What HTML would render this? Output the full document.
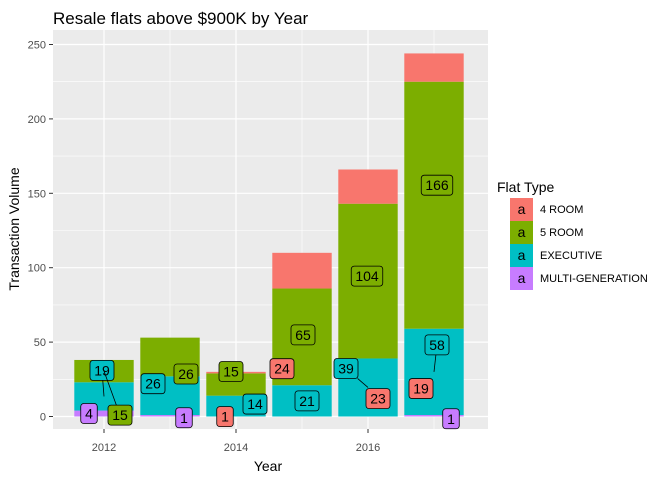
<!DOCTYPE html>
<html><head><meta charset="utf-8">
<style>
body{margin:0;background:#fff;font-family:"Liberation Sans",Arial,sans-serif;}
svg text{font-family:"Liberation Sans",Arial,sans-serif;}
</style></head>
<body>
<svg id="chart" width="672" height="480" xmlns="http://www.w3.org/2000/svg">
<text x="53" y="24" font-size="17" fill="#000">Resale flats above $900K by Year</text>
<rect x="53" y="30" width="435" height="399" fill="#EBEBEB"/>
<g id="grid"></g><g id="bars"></g><g id="labels"></g><g id="axes"></g>
<text x="268" y="471" font-size="14" text-anchor="middle">Year</text>
<text transform="translate(19,229) rotate(-90)" font-size="14" text-anchor="middle">Transaction Volume</text>
<g>
<text x="497" y="192" font-size="14">Flat Type</text>
<g id="legend"></g>
</g>
</svg>
<script>
const years=[2012,2013,2014,2015,2016,2017];
const types=["MULTI-GENERATION","EXECUTIVE","5 ROOM","4 ROOM"];
const mg=[4,1,0,0,0,1];
const exec=[19,26,14,21,39,58];
const room5=[15,26,15,65,104,166];
const room4=[0,0,1,24,23,19];
const yTicks=[0,50,100,150,200,250];
const xTicks=[2012,2014,2016];
const colors={"4 ROOM":"#F8766D","5 ROOM":"#7CAE00","EXECUTIVE":"#00BFC4","MULTI-GENERATION":"#C77CFF"};
const offMG=[[-15,0],[14,2],[0,0],[0,0],[0,0],[17,3]];
const offEX=[[-2,-26],[-17,-12],[19,-2],[5,0],[-22,-19],[3,-27]];
const off5=[[16,44],[16,17],[-5,-13],[1,-2],[-1,-5],[3,-20]];
const off4=[[0,0],[0,0],[-11,44],[-20,98],[10,212],[-13,321]];
const series=[mg,exec,room5,room4];
const offs=[offMG,offEX,off5,off4];
const NS="http://www.w3.org/2000/svg";
function X(yr){return 104+(yr-2012)*66;}
function Y(v){return 416.5-v*1.488;}
function el(tag,attrs,parent){const e=document.createElementNS(NS,tag);for(const k in attrs)e.setAttribute(k,attrs[k]);parent.appendChild(e);return e;}
const grid=document.getElementById('grid'),bars=document.getElementById('bars'),labels=document.getElementById('labels'),axes=document.getElementById('axes'),legend=document.getElementById('legend');
for(let i=0;i<yTicks.length-1;i++){const v=(yTicks[i]+yTicks[i+1])/2;const l=el('line',{x1:53,x2:488,y1:Y(v),y2:Y(v),stroke:'#fff','stroke-width':0.6},grid);

}
for(let i=0;i<xTicks.length;i++){const v=xTicks[i]+1;const l=el('line',{x1:X(v),x2:X(v),y1:30,y2:429,stroke:'#fff','stroke-width':0.6},grid);

}
yTicks.forEach(v=>{const l=el('line',{x1:53,x2:488,y1:Y(v),y2:Y(v),stroke:'#fff','stroke-width':1.2},grid);


const t=el('text',{x:46,y:Y(v)+4,'font-size':11,'text-anchor':'end',fill:'#4D4D4D'},axes);t.textContent=v;


const tk=el('line',{x1:49,x2:53,y1:Y(v),y2:Y(v),stroke:'#333'},axes);

});
xTicks.forEach(v=>{const l=el('line',{x1:X(v),x2:X(v),y1:30,y2:429,stroke:'#fff','stroke-width':1.2},grid);


const t=el('text',{x:X(v),y:451,'font-size':11,'text-anchor':'middle',fill:'#4D4D4D'},axes);t.textContent=v;


const tk=el('line',{x1:X(v),x2:X(v),y1:429,y2:433,stroke:'#333'},axes);

});
years.forEach((yr,i)=>{let base=0;series.forEach((s,si)=>{const v=s[i];if(v>0){
const r=el('rect',{x:X(yr)-29.7,width:59.4,y:Y(base+v),height:Y(base)-Y(base+v),fill:colors[types[si]]},bars);

}
base+=v;});});
years.forEach((yr,i)=>{let base=0;series.forEach((s,si)=>{const v=s[i];if(v>0){
const px=X(yr),py=Y(base+v/2);const o=offs[si][i];const lx=px+o[0],ly=py+o[1];
const txt=String(v);const w=txt.length*7.5+9,h=20;
const d=Math.hypot(o[0],o[1]);
if(d>25&&d<50&&si<3){
const t=Math.min((w/2)/Math.abs(o[0]||1e-6),(h/2)/Math.abs(o[1]||1e-6));
const sx=lx-o[0]*t,sy=ly-o[1]*t;
const sg=el('line',{x1:px,y1:py,x2:sx,y2:sy,stroke:'#000','stroke-width':0.8},labels);

}
const g=el('g',{},labels);


el('rect',{x:lx-w/2,y:ly-h/2,width:w,height:h,rx:3,fill:colors[types[si]],stroke:'#000','stroke-width':0.8},g);
const t=el('text',{x:lx,y:ly+5,'font-size':14,'text-anchor':'middle',fill:'#000'},g);t.textContent=txt;}
base+=v;});});
["4 ROOM","5 ROOM","EXECUTIVE","MULTI-GENERATION"].forEach((n,i)=>{const y=198+i*23;
const g=el('g',{},legend);


el('rect',{x:510,y:y,width:23,height:23,fill:colors[n]},g);
const a=el('text',{x:521.5,y:y+16,'font-size':14,'text-anchor':'middle'},g);a.textContent='a';
const t=el('text',{x:540,y:y+15,'font-size':11},g);t.textContent=n;});
</script>
</body></html>
